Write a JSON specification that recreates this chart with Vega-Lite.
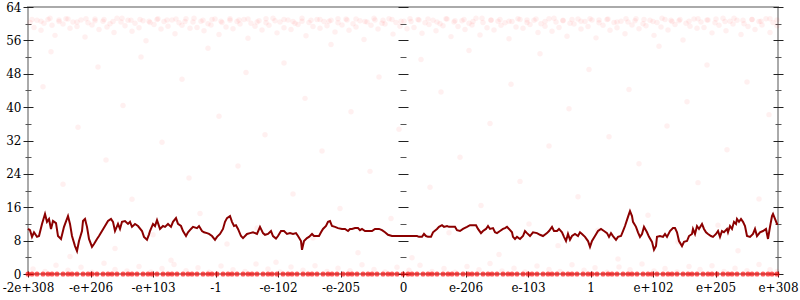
{
 "$schema": "https://vega.github.io/schema/vega-lite/v6.json",
 "width": 750, "height": 267,
 "autosize": {"type": "none"},
 "padding": {"left": 28, "top": 7, "right": 22, "bottom": 26},
 "config": {
  "view": {"stroke": "#aaaaaa", "strokeWidth": 2},
  "axis": {"labelFont": "DejaVu Serif", "labelFontSize": 12, "labelColor": "#000000", "title": null, "grid": false, "tickColor": "#222222", "tickWidth": 1}
 },
 "datasets": {
  "pts": [
   {"x":-373,"y":60.3},{"x":-369,"y":59.1},{"x":-366,"y":60.8},{"x":-362,"y":58.4},{"x":-359,"y":60.1},{"x":-355,"y":61.0},{"x":-351,"y":59.6},{"x":-348,"y":57.2},{"x":-344,"y":60.5},{"x":-340,"y":59.9},{"x":-337,"y":61.2},{"x":-333,"y":58.9},{"x":-330,"y":60.4},{"x":-326,"y":59.3},{"x":-322,"y":60.9},{"x":-318,"y":56.8},{"x":-315,"y":60.2},{"x":-311,"y":59.7},{"x":-308,"y":61.1},{"x":-304,"y":58.6},{"x":-300,"y":60.6},{"x":-296,"y":59.2},{"x":-293,"y":60.0},{"x":-289,"y":57.9},{"x":-286,"y":61.3},{"x":-282,"y":60.4},{"x":-278,"y":59.5},{"x":-275,"y":60.8},{"x":-271,"y":58.2},{"x":-268,"y":60.1},{"x":-264,"y":59.0},{"x":-260,"y":60.7},{"x":-257,"y":55.9},{"x":-253,"y":60.3},{"x":-249,"y":59.8},{"x":-246,"y":61.0},{"x":-242,"y":58.7},{"x":-239,"y":60.5},{"x":-235,"y":59.4},{"x":-231,"y":60.9},{"x":-228,"y":57.6},{"x":-224,"y":60.2},{"x":-221,"y":59.6},{"x":-217,"y":61.2},{"x":-213,"y":58.9},{"x":-210,"y":60.4},{"x":-206,"y":59.1},{"x":-202,"y":60.6},{"x":-199,"y":58.3},{"x":-195,"y":60.0},{"x":-192,"y":59.7},{"x":-188,"y":61.1},{"x":-184,"y":57.4},{"x":-181,"y":60.3},{"x":-177,"y":59.2},{"x":-173,"y":60.8},{"x":-170,"y":58.8},{"x":-166,"y":60.5},{"x":-163,"y":59.9},{"x":-159,"y":61.0},{"x":-155,"y":56.5},{"x":-152,"y":60.1},{"x":-148,"y":59.4},{"x":-144,"y":60.7},{"x":-141,"y":58.5},{"x":-137,"y":60.2},{"x":-134,"y":59.6},{"x":-130,"y":61.3},{"x":-126,"y":57.8},{"x":-123,"y":60.4},{"x":-119,"y":59.0},{"x":-115,"y":60.9},{"x":-112,"y":58.6},{"x":-108,"y":60.1},{"x":-105,"y":59.8},{"x":-101,"y":60.6},{"x":-97,"y":57.1},{"x":-94,"y":60.3},{"x":-90,"y":59.3},{"x":-86,"y":61.0},{"x":-83,"y":58.9},{"x":-79,"y":60.5},{"x":-76,"y":59.5},{"x":-72,"y":60.8},{"x":-68,"y":58.0},{"x":-65,"y":60.2},{"x":-61,"y":59.7},{"x":-57,"y":61.1},{"x":-54,"y":58.4},{"x":-50,"y":60.0},{"x":-47,"y":59.2},{"x":-43,"y":60.7},{"x":-39,"y":56.2},{"x":-36,"y":60.4},{"x":-32,"y":59.6},{"x":-28,"y":60.9},{"x":-25,"y":58.7},{"x":-21,"y":60.1},{"x":-18,"y":59.9},{"x":-14,"y":61.2},{"x":-10,"y":57.5},{"x":-7,"y":60.3},{"x":-3,"y":59.4},{"x":1,"y":60.6},{"x":4,"y":58.8},{"x":8,"y":60.5},{"x":11,"y":59.1},{"x":15,"y":61.0},{"x":19,"y":57.7},{"x":22,"y":60.2},{"x":26,"y":59.8},{"x":30,"y":60.8},{"x":33,"y":58.3},{"x":37,"y":60.0},{"x":40,"y":59.5},{"x":44,"y":61.1},{"x":48,"y":56.9},{"x":51,"y":60.4},{"x":55,"y":59.3},{"x":59,"y":60.7},{"x":62,"y":58.6},{"x":66,"y":60.1},{"x":69,"y":59.7},{"x":73,"y":61.3},{"x":77,"y":57.3},{"x":80,"y":60.3},{"x":84,"y":59.0},{"x":88,"y":60.9},{"x":91,"y":58.5},{"x":95,"y":60.6},{"x":98,"y":59.6},{"x":102,"y":60.2},{"x":106,"y":56.4},{"x":109,"y":60.5},{"x":113,"y":59.2},{"x":117,"y":61.0},{"x":120,"y":58.9},{"x":124,"y":60.3},{"x":127,"y":59.8},{"x":131,"y":60.8},{"x":135,"y":57.9},{"x":138,"y":60.0},{"x":142,"y":59.4},{"x":146,"y":61.2},{"x":149,"y":58.2},{"x":153,"y":60.4},{"x":156,"y":59.1},{"x":160,"y":60.7},{"x":164,"y":57.0},{"x":167,"y":60.1},{"x":171,"y":59.9},{"x":175,"y":61.1},{"x":178,"y":58.7},{"x":182,"y":60.5},{"x":185,"y":59.3},{"x":189,"y":60.9},{"x":193,"y":56.6},{"x":196,"y":60.2},{"x":200,"y":59.6},{"x":204,"y":61.0},{"x":207,"y":58.4},{"x":211,"y":60.3},{"x":214,"y":59.0},{"x":218,"y":60.6},{"x":222,"y":57.6},{"x":225,"y":60.4},{"x":229,"y":59.7},{"x":233,"y":61.2},{"x":236,"y":58.8},{"x":240,"y":60.0},{"x":243,"y":59.5},{"x":247,"y":60.8},{"x":251,"y":57.2},{"x":254,"y":60.3},{"x":258,"y":59.2},{"x":262,"y":61.0},{"x":265,"y":58.5},{"x":269,"y":60.5},{"x":272,"y":59.8},{"x":276,"y":60.7},{"x":280,"y":56.1},{"x":283,"y":60.1},{"x":287,"y":59.4},{"x":291,"y":61.1},{"x":294,"y":58.9},{"x":298,"y":60.4},{"x":301,"y":59.1},{"x":305,"y":60.9},{"x":309,"y":57.8},{"x":312,"y":60.2},{"x":316,"y":59.6},{"x":320,"y":61.3},{"x":323,"y":58.3},{"x":327,"y":60.6},{"x":330,"y":59.9},{"x":334,"y":60.8},{"x":338,"y":57.4},{"x":341,"y":60.0},{"x":345,"y":59.3},{"x":349,"y":61.0},{"x":352,"y":58.6},{"x":356,"y":60.5},{"x":359,"y":59.7},{"x":363,"y":61.2},{"x":367,"y":57.9},{"x":370,"y":60.3},{"x":374,"y":59.5},
   {"x":-371,"y":61.0},{"x":-362,"y":60.6},{"x":-353,"y":61.3},{"x":-344,"y":60.9},{"x":-335,"y":61.1},{"x":-326,"y":60.4},{"x":-317,"y":61.2},{"x":-308,"y":60.7},{"x":-299,"y":61.0},{"x":-290,"y":60.5},{"x":-281,"y":61.3},{"x":-272,"y":60.8},{"x":-263,"y":61.0},{"x":-254,"y":60.6},{"x":-245,"y":61.2},{"x":-236,"y":60.9},{"x":-227,"y":61.1},{"x":-218,"y":60.5},{"x":-209,"y":61.3},{"x":-200,"y":60.8},{"x":-191,"y":61.0},{"x":-182,"y":60.6},{"x":-173,"y":61.2},{"x":-164,"y":60.9},{"x":-155,"y":61.1},{"x":-146,"y":60.4},{"x":-137,"y":61.2},{"x":-128,"y":60.7},{"x":-119,"y":61.0},{"x":-110,"y":60.5},{"x":-101,"y":61.3},{"x":-92,"y":60.8},{"x":-83,"y":61.0},{"x":-74,"y":60.6},{"x":-65,"y":61.2},{"x":-56,"y":60.9},{"x":-47,"y":61.1},{"x":-38,"y":60.5},{"x":-29,"y":61.3},{"x":-20,"y":60.8},{"x":-11,"y":61.0},{"x":-2,"y":60.6},{"x":7,"y":61.2},{"x":16,"y":60.9},{"x":25,"y":61.1},{"x":34,"y":60.4},{"x":43,"y":61.2},{"x":52,"y":60.7},{"x":61,"y":61.0},{"x":70,"y":60.5},{"x":79,"y":61.3},{"x":88,"y":60.8},{"x":97,"y":61.0},{"x":106,"y":60.6},{"x":115,"y":61.2},{"x":124,"y":60.9},{"x":133,"y":61.1},{"x":142,"y":60.5},{"x":151,"y":61.3},{"x":160,"y":60.8},{"x":169,"y":61.0},{"x":178,"y":60.6},{"x":187,"y":61.2},{"x":196,"y":60.9},{"x":205,"y":61.1},{"x":214,"y":60.4},{"x":223,"y":61.2},{"x":232,"y":60.7},{"x":241,"y":61.0},{"x":250,"y":60.5},{"x":259,"y":61.3},{"x":268,"y":60.8},{"x":277,"y":61.0},{"x":286,"y":60.6},{"x":295,"y":61.2},{"x":304,"y":60.9},{"x":313,"y":61.1},{"x":322,"y":60.5},{"x":331,"y":61.3},{"x":340,"y":60.8},{"x":349,"y":61.0},{"x":358,"y":60.6},{"x":367,"y":61.2},{"x":374,"y":60.9},
   {"x":-360,"y":44.9},{"x":-352,"y":53.3},{"x":-340,"y":21.5},{"x":-333,"y":4.2},{"x":-325,"y":35.2},{"x":-318,"y":12.8},{"x":-305,"y":49.6},{"x":-297,"y":27.3},{"x":-288,"y":6.1},{"x":-280,"y":40.4},{"x":-271,"y":17.9},{"x":-262,"y":52.0},{"x":-250,"y":9.4},{"x":-241,"y":31.6},{"x":-232,"y":3.3},{"x":-221,"y":46.7},{"x":-214,"y":23.0},{"x":-203,"y":14.5},{"x":-195,"y":54.1},{"x":-184,"y":37.8},{"x":-176,"y":7.2},{"x":-165,"y":25.9},{"x":-157,"y":48.3},{"x":-146,"y":11.0},{"x":-138,"y":33.4},{"x":-127,"y":2.8},{"x":-119,"y":50.6},{"x":-110,"y":19.2},{"x":-98,"y":42.1},{"x":-90,"y":8.6},{"x":-81,"y":29.5},{"x":-72,"y":55.0},{"x":-63,"y":15.7},{"x":-52,"y":38.9},{"x":-45,"y":5.1},{"x":-33,"y":24.6},{"x":-24,"y":47.2},{"x":-12,"y":13.3},{"x":-4,"y":34.7},{"x":9,"y":3.9},{"x":18,"y":51.4},{"x":27,"y":20.8},{"x":38,"y":43.6},{"x":46,"y":9.9},{"x":57,"y":28.0},{"x":66,"y":53.6},{"x":78,"y":16.4},{"x":87,"y":36.1},{"x":96,"y":4.7},{"x":108,"y":45.5},{"x":117,"y":22.2},{"x":126,"y":12.0},{"x":137,"y":52.8},{"x":146,"y":30.7},{"x":155,"y":6.8},{"x":166,"y":39.6},{"x":175,"y":18.5},{"x":186,"y":49.0},{"x":195,"y":10.5},{"x":206,"y":32.9},{"x":215,"y":3.6},{"x":226,"y":44.2},{"x":236,"y":26.4},{"x":245,"y":14.1},{"x":256,"y":54.6},{"x":264,"y":35.5},{"x":275,"y":7.7},{"x":284,"y":41.3},{"x":295,"y":21.9},{"x":304,"y":50.1},{"x":315,"y":11.7},{"x":324,"y":29.8},{"x":335,"y":5.6},{"x":344,"y":46.0},{"x":356,"y":18.0},{"x":366,"y":38.2},
   {"x":-370,"y":1.2},{"x":-358,"y":0.6},{"x":-347,"y":2.1},{"x":-335,"y":0.9},{"x":-322,"y":1.6},{"x":-311,"y":0.4},{"x":-299,"y":2.6},{"x":-288,"y":1.1},{"x":-276,"y":0.7},{"x":-264,"y":1.8},{"x":-252,"y":0.5},{"x":-241,"y":1.3},{"x":-229,"y":2.3},{"x":-217,"y":0.8},{"x":-205,"y":1.5},{"x":-194,"y":0.4},{"x":-182,"y":1.9},{"x":-170,"y":1.0},{"x":-158,"y":0.6},{"x":-147,"y":2.4},{"x":-135,"y":1.2},{"x":-123,"y":0.5},{"x":-112,"y":1.7},{"x":-100,"y":0.9},{"x":-88,"y":2.0},{"x":-76,"y":0.6},{"x":-65,"y":1.4},{"x":-53,"y":0.8},{"x":-41,"y":2.2},{"x":-29,"y":1.1},{"x":-18,"y":0.5},{"x":-6,"y":1.6},{"x":6,"y":0.9},{"x":17,"y":2.1},{"x":29,"y":0.6},{"x":41,"y":1.3},{"x":52,"y":0.4},{"x":64,"y":1.8},{"x":76,"y":1.0},{"x":87,"y":2.5},{"x":99,"y":0.7},{"x":111,"y":1.4},{"x":122,"y":0.5},{"x":134,"y":1.9},{"x":146,"y":1.1},{"x":157,"y":0.6},{"x":169,"y":2.2},{"x":181,"y":0.9},{"x":192,"y":1.5},{"x":204,"y":0.4},{"x":216,"y":1.7},{"x":227,"y":1.0},{"x":239,"y":2.4},{"x":251,"y":0.7},{"x":262,"y":1.3},{"x":274,"y":0.5},{"x":286,"y":1.8},{"x":297,"y":1.1},{"x":309,"y":2.0},{"x":321,"y":0.6},{"x":332,"y":1.4},{"x":344,"y":0.8},{"x":356,"y":2.3},{"x":367,"y":1.0},{"x":374,"y":0.6}
  ],
  "zero": [
   {"x":-375,"y":0},{"x":-371,"y":0},{"x":-366,"y":0},{"x":-360,"y":0},{"x":-355,"y":0},{"x":-351,"y":0},{"x":-346,"y":0},{"x":-340,"y":0},{"x":-335,"y":0},{"x":-331,"y":0},{"x":-326,"y":0},{"x":-320,"y":0},{"x":-315,"y":0},{"x":-311,"y":0},{"x":-306,"y":0},{"x":-300,"y":0},{"x":-295,"y":0},{"x":-291,"y":0},{"x":-286,"y":0},{"x":-280,"y":0},{"x":-275,"y":0},{"x":-271,"y":0},{"x":-266,"y":0},{"x":-260,"y":0},{"x":-255,"y":0},{"x":-251,"y":0},{"x":-246,"y":0},{"x":-240,"y":0},{"x":-235,"y":0},{"x":-231,"y":0},{"x":-226,"y":0},{"x":-220,"y":0},{"x":-215,"y":0},{"x":-211,"y":0},{"x":-206,"y":0},{"x":-200,"y":0},{"x":-195,"y":0},{"x":-191,"y":0},{"x":-186,"y":0},{"x":-180,"y":0},{"x":-175,"y":0},{"x":-171,"y":0},{"x":-166,"y":0},{"x":-160,"y":0},{"x":-155,"y":0},{"x":-151,"y":0},{"x":-146,"y":0},{"x":-140,"y":0},{"x":-135,"y":0},{"x":-131,"y":0},{"x":-126,"y":0},{"x":-120,"y":0},{"x":-115,"y":0},{"x":-111,"y":0},{"x":-106,"y":0},{"x":-100,"y":0},{"x":-95,"y":0},{"x":-91,"y":0},{"x":-86,"y":0},{"x":-80,"y":0},{"x":-75,"y":0},{"x":-71,"y":0},{"x":-66,"y":0},{"x":-60,"y":0},{"x":-55,"y":0},{"x":-51,"y":0},{"x":-46,"y":0},{"x":-40,"y":0},{"x":-35,"y":0},{"x":-31,"y":0},{"x":-26,"y":0},{"x":-20,"y":0},{"x":-15,"y":0},{"x":-11,"y":0},{"x":-6,"y":0},{"x":0,"y":0},{"x":5,"y":0},{"x":9,"y":0},{"x":14,"y":0},{"x":20,"y":0},{"x":25,"y":0},{"x":29,"y":0},{"x":34,"y":0},{"x":40,"y":0},{"x":45,"y":0},{"x":49,"y":0},{"x":54,"y":0},{"x":60,"y":0},{"x":65,"y":0},{"x":69,"y":0},{"x":74,"y":0},{"x":80,"y":0},{"x":85,"y":0},{"x":89,"y":0},{"x":94,"y":0},{"x":100,"y":0},{"x":105,"y":0},{"x":109,"y":0},{"x":114,"y":0},{"x":120,"y":0},{"x":125,"y":0},{"x":129,"y":0},{"x":134,"y":0},{"x":140,"y":0},{"x":145,"y":0},{"x":149,"y":0},{"x":154,"y":0},{"x":160,"y":0},{"x":165,"y":0},{"x":169,"y":0},{"x":174,"y":0},{"x":180,"y":0},{"x":185,"y":0},{"x":189,"y":0},{"x":194,"y":0},{"x":200,"y":0},{"x":205,"y":0},{"x":209,"y":0},{"x":214,"y":0},{"x":220,"y":0},{"x":225,"y":0},{"x":229,"y":0},{"x":234,"y":0},{"x":240,"y":0},{"x":245,"y":0},{"x":249,"y":0},{"x":254,"y":0},{"x":260,"y":0},{"x":265,"y":0},{"x":269,"y":0},{"x":274,"y":0},{"x":280,"y":0},{"x":285,"y":0},{"x":289,"y":0},{"x":294,"y":0},{"x":300,"y":0},{"x":305,"y":0},{"x":309,"y":0},{"x":314,"y":0},{"x":320,"y":0},{"x":325,"y":0},{"x":329,"y":0},{"x":334,"y":0},{"x":340,"y":0},{"x":345,"y":0},{"x":349,"y":0},{"x":354,"y":0},{"x":360,"y":0},{"x":365,"y":0},{"x":369,"y":0},{"x":374,"y":0}
  ],
  "line": [
   {"x":-375,"y":10.8},{"x":-373,"y":10.5},{"x":-371,"y":8.9},{"x":-369,"y":10},{"x":-366,"y":8.9},{"x":-364,"y":9.1},{"x":-361,"y":12},{"x":-358,"y":14.4},{"x":-356,"y":12.5},{"x":-354,"y":13.2},{"x":-352,"y":10.8},{"x":-350,"y":12.7},{"x":-347,"y":12.2},{"x":-345,"y":9.1},{"x":-342,"y":8.4},{"x":-339,"y":11.3},{"x":-335,"y":13.9},{"x":-333,"y":12},{"x":-331,"y":9.1},{"x":-328,"y":6.7},{"x":-326,"y":5.5},{"x":-324,"y":7.9},{"x":-321,"y":10.3},{"x":-320,"y":12.7},{"x":-318,"y":13.2},{"x":-316,"y":11.3},{"x":-314,"y":8.4},{"x":-311,"y":6.5},{"x":-309,"y":7.2},{"x":-306,"y":8.4},{"x":-304,"y":9.1},{"x":-301,"y":10.3},{"x":-298,"y":11.5},{"x":-295,"y":12.7},{"x":-292,"y":13.2},{"x":-290,"y":12.5},{"x":-288,"y":10.3},{"x":-285,"y":12},{"x":-283,"y":10.8},{"x":-281,"y":12.5},{"x":-278,"y":12.7},{"x":-275,"y":12},{"x":-273,"y":12.5},{"x":-271,"y":11.3},{"x":-268,"y":12},{"x":-265,"y":11.5},{"x":-261,"y":10.3},{"x":-259,"y":8.9},{"x":-256,"y":8.2},{"x":-254,"y":9.5},{"x":-253,"y":10.3},{"x":-250,"y":12},{"x":-248,"y":11.5},{"x":-246,"y":12.9},{"x":-243,"y":10.8},{"x":-240,"y":11.5},{"x":-238,"y":11.3},{"x":-235,"y":12},{"x":-232,"y":11.3},{"x":-230,"y":12.5},{"x":-227,"y":13.4},{"x":-225,"y":12},{"x":-222,"y":11.5},{"x":-220,"y":10.3},{"x":-217,"y":9.1},{"x":-215,"y":10},{"x":-212,"y":10.8},{"x":-210,"y":11.3},{"x":-206,"y":11},{"x":-204,"y":11.5},{"x":-201,"y":10.3},{"x":-199,"y":10},{"x":-196,"y":9.8},{"x":-194,"y":9.6},{"x":-191,"y":9.1},{"x":-188,"y":8.2},{"x":-186,"y":8.9},{"x":-183,"y":9.6},{"x":-180,"y":10.8},{"x":-178,"y":12.5},{"x":-176,"y":13.4},{"x":-173,"y":13.9},{"x":-171,"y":12.5},{"x":-169,"y":11.5},{"x":-167,"y":11.7},{"x":-165,"y":10.8},{"x":-162,"y":9.1},{"x":-160,"y":8.6},{"x":-156,"y":9.6},{"x":-153,"y":9.8},{"x":-150,"y":10},{"x":-146,"y":9.6},{"x":-143,"y":11.3},{"x":-140,"y":9.8},{"x":-138,"y":9.4},{"x":-135,"y":9.6},{"x":-132,"y":10.3},{"x":-130,"y":9.1},{"x":-127,"y":8.5},{"x":-125,"y":9.1},{"x":-122,"y":10.3},{"x":-119,"y":10.3},{"x":-116,"y":9.6},{"x":-113,"y":9.8},{"x":-110,"y":9.6},{"x":-107,"y":9.8},{"x":-105,"y":9.1},{"x":-102,"y":7.9},{"x":-101,"y":5.8},{"x":-99,"y":7.9},{"x":-96,"y":8.6},{"x":-94,"y":8.9},{"x":-91,"y":9.6},{"x":-89,"y":9.1},{"x":-86,"y":9.1},{"x":-84,"y":9.1},{"x":-82,"y":10},{"x":-80,"y":10.8},{"x":-77,"y":11.5},{"x":-75,"y":12.5},{"x":-73,"y":12.7},{"x":-71,"y":11.5},{"x":-68,"y":11.3},{"x":-65,"y":11},{"x":-61,"y":10.8},{"x":-58,"y":10.8},{"x":-55,"y":10.3},{"x":-53,"y":10.8},{"x":-51,"y":10.8},{"x":-48,"y":11},{"x":-45,"y":11},{"x":-43,"y":10.5},{"x":-41,"y":10.8},{"x":-38,"y":10.3},{"x":-35,"y":10.3},{"x":-31,"y":10.3},{"x":-28,"y":10.8},{"x":-24,"y":10.8},{"x":-21,"y":10.5},{"x":-18,"y":10},{"x":-15,"y":9.4},{"x":-11,"y":9.1},{"x":-8,"y":9.1},{"x":-3,"y":9.1},{"x":4,"y":9.1},{"x":10,"y":9.1},{"x":14,"y":9.1},{"x":16,"y":8.9},{"x":19,"y":8.9},{"x":21,"y":9.6},{"x":23,"y":9.1},{"x":25,"y":8.9},{"x":28,"y":8.9},{"x":30,"y":10},{"x":34,"y":10.8},{"x":36,"y":11.3},{"x":39,"y":11.7},{"x":41,"y":11.3},{"x":44,"y":11.5},{"x":46,"y":11.3},{"x":50,"y":11.3},{"x":52,"y":11.3},{"x":54,"y":10.5},{"x":57,"y":10.3},{"x":60,"y":10.8},{"x":64,"y":11.3},{"x":67,"y":11.7},{"x":70,"y":11.7},{"x":73,"y":11.7},{"x":75,"y":10.8},{"x":78,"y":9.8},{"x":80,"y":10.3},{"x":83,"y":10.8},{"x":85,"y":11.5},{"x":87,"y":10.8},{"x":90,"y":11},{"x":92,"y":10},{"x":94,"y":9.8},{"x":97,"y":10.3},{"x":100,"y":10.8},{"x":102,"y":11},{"x":104,"y":11.3},{"x":106,"y":10.8},{"x":109,"y":10},{"x":110,"y":8.9},{"x":112,"y":8.4},{"x":114,"y":8.9},{"x":117,"y":8.4},{"x":120,"y":9.1},{"x":122,"y":10.3},{"x":124,"y":9.8},{"x":127,"y":9.1},{"x":130,"y":10},{"x":134,"y":9.8},{"x":137,"y":9.4},{"x":140,"y":9.1},{"x":144,"y":9.8},{"x":146,"y":10.3},{"x":149,"y":11.3},{"x":151,"y":10.3},{"x":154,"y":10.3},{"x":156,"y":10.8},{"x":159,"y":10},{"x":161,"y":8.9},{"x":163,"y":7.9},{"x":165,"y":9.6},{"x":167,"y":8.2},{"x":169,"y":9.1},{"x":172,"y":9.6},{"x":175,"y":9.1},{"x":177,"y":10},{"x":179,"y":9.6},{"x":182,"y":8.9},{"x":185,"y":7.9},{"x":187,"y":6.5},{"x":189,"y":7.9},{"x":192,"y":9.1},{"x":195,"y":10.3},{"x":198,"y":10.8},{"x":201,"y":10.3},{"x":204,"y":9.8},{"x":206,"y":8.9},{"x":208,"y":9.8},{"x":210,"y":9.1},{"x":213,"y":8.2},{"x":215,"y":8.9},{"x":218,"y":9.1},{"x":220,"y":10.3},{"x":222,"y":11.5},{"x":225,"y":13.7},{"x":227,"y":15.1},{"x":229,"y":13.9},{"x":230,"y":12.5},{"x":233,"y":11.3},{"x":235,"y":10},{"x":237,"y":8.9},{"x":239,"y":9.6},{"x":241,"y":11.3},{"x":244,"y":10},{"x":246,"y":8.9},{"x":249,"y":7.7},{"x":251,"y":5.8},{"x":253,"y":6.7},{"x":254,"y":8.9},{"x":257,"y":9.1},{"x":260,"y":8.9},{"x":262,"y":9.6},{"x":264,"y":8.9},{"x":267,"y":10.3},{"x":270,"y":11},{"x":272,"y":11},{"x":274,"y":10},{"x":276,"y":7.9},{"x":279,"y":6.7},{"x":281,"y":7.7},{"x":284,"y":7.9},{"x":286,"y":9.1},{"x":289,"y":9.6},{"x":290,"y":10.8},{"x":292,"y":9.6},{"x":294,"y":11.5},{"x":296,"y":10.8},{"x":299,"y":12},{"x":301,"y":10.8},{"x":303,"y":10},{"x":305,"y":9.6},{"x":308,"y":9.1},{"x":310,"y":8.9},{"x":313,"y":9.6},{"x":315,"y":10.3},{"x":317,"y":8.9},{"x":319,"y":10.3},{"x":321,"y":10},{"x":324,"y":10.8},{"x":325,"y":10},{"x":327,"y":11.5},{"x":329,"y":10.8},{"x":331,"y":12.5},{"x":333,"y":12},{"x":334,"y":13.2},{"x":336,"y":12.5},{"x":338,"y":13.2},{"x":340,"y":12.5},{"x":342,"y":11.5},{"x":344,"y":9.1},{"x":347,"y":8.9},{"x":350,"y":9.6},{"x":352,"y":10.8},{"x":354,"y":9.1},{"x":357,"y":10},{"x":360,"y":10.3},{"x":363,"y":10.8},{"x":365,"y":8.4},{"x":367,"y":11.3},{"x":369,"y":13.9},{"x":370,"y":14.4},{"x":372,"y":13.2},{"x":374,"y":12},{"x":375,"y":12}
  ]
 },
 "resolve": {"axis": {"x": "independent", "y": "independent"}},
 "layer": [
  {
   "mark": {"type": "rule", "color": "#aaaaaa", "strokeWidth": 2},
   "encoding": {"x": {"datum": 0, "type": "quantitative", "scale": {"domain": [-375, 375], "nice": false, "zero": false}, "axis": null}}
  },
  {
   "data": {"name": "pts"},
   "mark": {"type": "circle", "color": "#ff0000", "opacity": 0.06, "size": 30},
   "encoding": {
    "x": {"field": "x", "type": "quantitative", "scale": {"domain": [-375, 375], "nice": false, "zero": false},
     "axis": {"orient": "bottom", "values": [-375, -312.5, -250, -187.5, -125, -62.5, 0, 62.5, 125, 187.5, 250, 312.5, 375], "tickSize": 6, "offset": -3, "domain": false, "labelPadding": 5, "labelFlush": false,
      "labelExpr": "['-2e+308','-e+206','-e+103','-1','-e-102','-e-205','0','e-206','e-103','1','e+102','e+205','e+308'][round(datum.value/62.5)+6]"}},
    "y": {"field": "y", "type": "quantitative", "scale": {"domain": [0, 64], "nice": false},
     "axis": {"orient": "left", "values": [0, 8, 16, 24, 32, 40, 48, 56, 64], "tickSize": 10, "offset": -5, "domain": false, "labelPadding": 2}}
   }
  },
  {
   "data": {"name": "zero"},
   "mark": {"type": "circle", "color": "#ff0000", "opacity": 0.65, "size": 26},
   "encoding": {
    "x": {"field": "x", "type": "quantitative", "axis": null},
    "y": {"field": "y", "type": "quantitative",
     "axis": {"orient": "left", "values": [4, 12, 20, 28, 36, 44, 52, 60], "tickSize": 6, "offset": -3, "domain": false, "labels": false, "tickColor": "#555555"}}
   }
  },
  {
   "data": {"name": "line"},
   "mark": {"type": "line", "color": "#8b0000", "strokeWidth": 2},
   "encoding": {
    "x": {"field": "x", "type": "quantitative", "axis": null},
    "y": {"field": "y", "type": "quantitative",
     "axis": {"orient": "right", "values": [0, 8, 16, 24, 32, 40, 48, 56, 64], "tickSize": 10, "offset": -5, "domain": false, "labels": false}}
   }
  },
  {
   "data": {"name": "line"},
   "mark": {"type": "point", "opacity": 0},
   "encoding": {
    "x": {"field": "x", "type": "quantitative", "axis": null},
    "y": {"field": "y", "type": "quantitative",
     "axis": {"orient": "right", "values": [4, 12, 20, 28, 36, 44, 52, 60], "tickSize": 6, "offset": -3, "domain": false, "labels": false, "tickColor": "#555555"}}
   }
  },
  {
   "data": {"name": "line"},
   "mark": {"type": "point", "opacity": 0},
   "encoding": {
    "x": {"field": "x", "type": "quantitative", "axis": null},
    "y": {"field": "y", "type": "quantitative",
     "axis": {"orient": "left", "values": [0, 8, 16, 24, 32, 40, 48, 56, 64], "tickSize": 10, "offset": -380, "domain": false, "labels": false}}
   }
  },
  {
   "data": {"name": "line"},
   "mark": {"type": "point", "opacity": 0},
   "encoding": {
    "x": {"field": "x", "type": "quantitative", "axis": null},
    "y": {"field": "y", "type": "quantitative",
     "axis": {"orient": "left", "values": [4, 12, 20, 28, 36, 44, 52, 60], "tickSize": 6, "offset": -378, "domain": false, "labels": false, "tickColor": "#555555"}}
   }
  }
 ]
}
